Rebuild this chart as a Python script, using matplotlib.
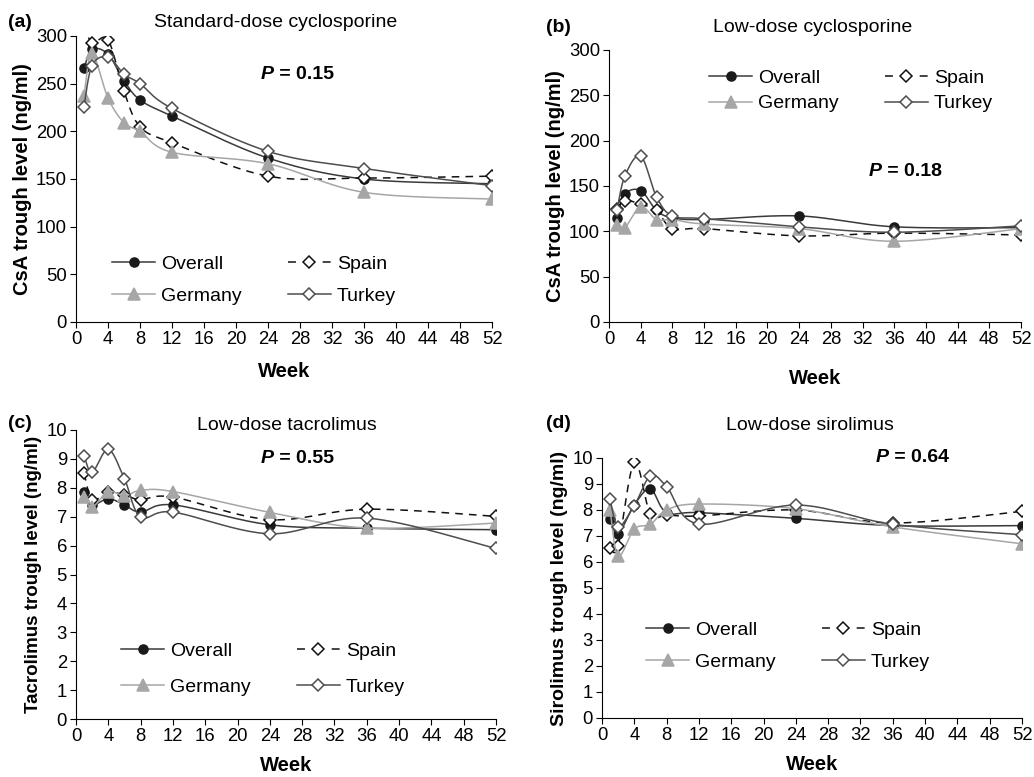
import numpy as np
import matplotlib
matplotlib.use("Agg")
import matplotlib.pyplot as plt
from matplotlib.lines import Line2D

plt.rcParams['font.family'] = ['Liberation Sans', 'DejaVu Sans']

# weeks sampled
weeks = [1, 2, 4, 6, 8, 12, 24, 36, 52]
series_names = ['Overall', 'Spain', 'Germany', 'Turkey']

# (a) standard-dose cyclosporine, ng/ml
std_csa_overall = [266, 286, 281, 253, 233, 216, 172, 150, 145]
std_csa_spain = [312, 293, 296, 242, 205, 188, 153, 151, 153]
std_csa_germany = [237, 282, 235, 209, 200, 178, 166, 136, 129]
std_csa_turkey = [226, 269, 278, 260, 250, 224, 179, 161, 143]

# (b) low-dose cyclosporine, ng/ml
low_csa_overall = [115, 141, 145, 123, 115, 113, 117, 105, 104]
low_csa_spain = [125, 134, 130, 123, 103, 103, 95, 98, 96]
low_csa_germany = [107, 104, 127, 113, 113, 108, 103, 89, 103]
low_csa_turkey = [123, 161, 183, 138, 117, 114, 105, 99, 106]

# (c) low-dose tacrolimus, ng/ml
tac_overall = [7.84, 7.41, 7.62, 7.41, 7.16, 7.41, 6.72, 6.6, 6.55]
tac_spain = [8.51, 7.59, 7.85, 7.75, 7.59, 7.68, 6.9, 7.26, 7.01]
tac_germany = [7.68, 7.33, 7.87, 7.72, 7.91, 7.87, 7.15, 6.61, 6.78]
tac_turkey = [9.10, 8.54, 9.33, 8.31, 6.99, 7.16, 6.41, 6.95, 5.9]

# (d) low-dose sirolimus, ng/ml
sir_overall = [7.64, 7.08, 8.2, 8.8, 7.9, 7.9, 7.68, 7.4, 7.4]
sir_spain = [6.53, 6.63, 9.83, 7.83, 7.81, 7.77, 8.0, 7.5, 7.95]
sir_germany = [8.0, 6.23, 7.27, 7.45, 8.0, 8.23, 8.05, 7.35, 6.7]
sir_turkey = [8.41, 7.36, 8.17, 9.31, 8.9, 7.46, 8.19, 7.45, 7.05]

styles = {
    'Overall': dict(color='#3a3a3a', ls='-', marker='o', mfc='#1a1a1a', mec='#1a1a1a', ms=6.5),
    'Spain': dict(color='#111111', ls=(0, (5, 4)), marker='D', mfc='white', mec='#111111', ms=6.5),
    'Germany': dict(color='#a6a6a6', ls='-', marker='^', mfc='#a6a6a6', mec='#a6a6a6', ms=8),
    'Turkey': dict(color='#4d4d4d', ls='-', marker='D', mfc='white', mec='#4d4d4d', ms=6),
}
# legend sample for Spain: short dash, diamond, short dash
legend_ls = {'Spain': (0, (5.2, 17.5))}

W, H = 1034, 777


def smooth(x, y, n=25):
    # Excel-like smoothed line (bezier through the points)
    p = np.column_stack([x, y]).astype(float)
    p = np.vstack([p[0], p, p[-1]])
    out = []
    t = np.linspace(0, 1, n)
    for i in range(1, len(p) - 2):
        p0, p1, p2, p3 = p[i - 1], p[i], p[i + 1], p[i + 2]
        c1 = p1 + (p2 - p0) / 6
        c2 = p2 - (p3 - p1) / 6
        seg = ((1 - t) ** 3)[:, None] * p1 + (3 * (1 - t) ** 2 * t)[:, None] * c1 \
            + (3 * (1 - t) * t ** 2)[:, None] * c2 + (t ** 3)[:, None] * p2
        out.append(seg if i == 1 else seg[1:])
    out = np.vstack(out)
    return out[:, 0], out[:, 1]


def px(x, y):
    return x / W, 1 - y / H


def panel(box, data, ylim, ystep, ylabel, ylab_size, letter_xy, letter, title_xy, title,
          p_xy, pval, leg_xy, leg_space, xpad):
    l, t, r, b = box
    ax = fig.add_axes([l / W, 1 - b / H, (r - l) / W, (b - t) / H])
    for name, vals in zip(series_names, data):
        st = styles[name]
        xs, ys = smooth(weeks, vals)
        ax.plot(xs, ys, color=st['color'], ls=st['ls'], lw=1.1)
        ax.plot(weeks, vals, ls='none', marker=st['marker'], mfc=st['mfc'],
                mec=st['mec'], ms=st['ms'], mew=1.1)
    ax.set_xlim(0, 52)
    ax.set_ylim(0, ylim)
    ax.set_xticks(range(0, 53, 4))
    ax.set_yticks(np.arange(0, ylim + ystep / 2, ystep))
    ax.spines['top'].set_visible(False)
    ax.spines['right'].set_visible(False)
    ax.tick_params(direction='out', length=4.5, labelsize=13.3, pad=2)
    ax.set_xlabel('Week', fontsize=14.5, fontweight='bold', labelpad=xpad)
    ax.set_ylabel(ylabel, fontsize=ylab_size, fontweight='bold', labelpad=3)

    fig.text(*px(*letter_xy), letter, fontsize=14, fontweight='bold',
             ha='left', va='baseline')
    fig.text(*px(*title_xy), title, fontsize=14, ha='center', va='baseline')
    fig.text(*px(*p_xy), 'P', fontsize=14, fontweight='bold', style='italic',
             ha='right', va='baseline')
    fig.text(*px(*p_xy), ' = ' + pval, fontsize=14, fontweight='bold',
             ha='left', va='baseline')

    handles = []
    for name in ['Overall', 'Germany', 'Spain', 'Turkey']:
        st = styles[name]
        handles.append(Line2D([], [], color=st['color'], ls=legend_ls.get(name, st['ls']),
                              lw=1.1, marker=st['marker'], mfc=st['mfc'], mec=st['mec'],
                              ms=st['ms'], mew=1.1, label=name))
    ax.legend(handles=handles, ncol=2, loc='center', bbox_to_anchor=px(*leg_xy),
              bbox_transform=fig.transFigure, frameon=False, fontsize=14,
              handlelength=2.2, columnspacing=2.4, labelspacing=leg_space,
              handletextpad=0.3, borderpad=0, borderaxespad=0)
    return ax


fig = plt.figure(figsize=(W / 100, H / 100), dpi=100)

panel((76, 36, 492, 322),
      [std_csa_overall, std_csa_spain, std_csa_germany, std_csa_turkey],
      300, 50, 'CsA trough level (ng/ml)', 14.5, (8, 27), '(a)',
      (276, 27), 'Standard-dose cyclosporine', (274, 79), '0.15',
      (254, 280), 0.75, 10)

panel((609, 50, 1021, 322),
      [low_csa_overall, low_csa_spain, low_csa_germany, low_csa_turkey],
      300, 50, 'CsA trough level (ng/ml)', 14.5, (546, 32), '(b)',
      (813, 32), 'Low-dose cyclosporine', (882, 176), '0.18',
      (851, 91), 0.4, 15)

panel((76, 430, 496, 719),
      [tac_overall, tac_spain, tac_germany, tac_turkey],
      10, 1, 'Tacrolimus trough level (ng/ml)', 13.5, (8, 428), '(c)',
      (287, 430), 'Low-dose tacrolimus', (274, 463), '0.55',
      (263, 669), 0.95, 8)

panel((602, 458, 1022, 718),
      [sir_overall, sir_spain, sir_germany, sir_turkey],
      10, 1, 'Sirolimus trough level (ng/ml)', 14, (546, 428), '(d)',
      (810, 430), 'Low-dose sirolimus', (889, 462), '0.64',
      (788, 646), 0.75, 8)

fig.savefig('out.png', dpi=100)
